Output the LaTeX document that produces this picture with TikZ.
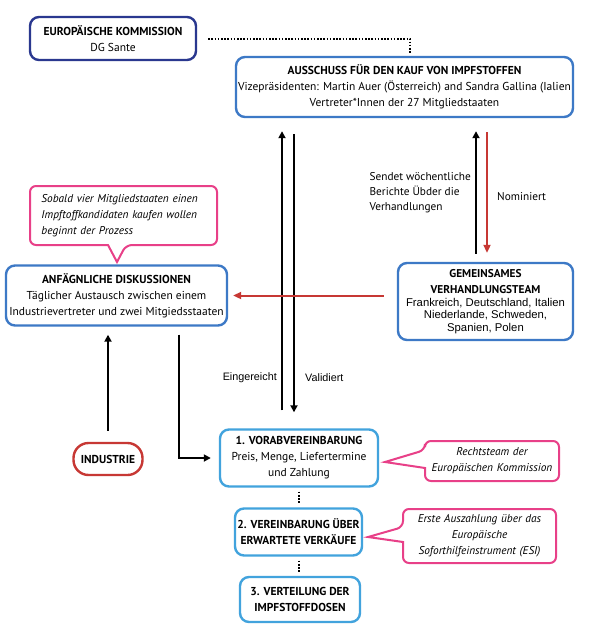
\documentclass[tikz,border=0pt]{standalone}
\usepackage{fontspec}
\setmainfont{PT Sans}
\newfontfamily\arialfont{Liberation Sans}
\usetikzlibrary{arrows.meta,calc}

\definecolor{navyblue}{RGB}{42,56,143}
\definecolor{midblue}{RGB}{61,121,198}
\definecolor{skyblue}{RGB}{66,163,221}
\definecolor{boxred}{RGB}{199,56,52}
\definecolor{notepink}{RGB}{232,64,136}

\tikzstyle{box}=[draw,rounded corners=9pt,line width=2.4pt,align=center,inner sep=1pt,fill=white,font=\fontsize{11.5}{16}\selectfont]
\tikzstyle{note}=[inner sep=4pt,font=\fontsize{11.3}{16}\selectfont\itshape]
\tikzstyle{note edge}=[draw=notepink,fill=white,line width=2pt]
\tikzstyle{flow}=[draw,line width=2.3pt,-{Triangle[width=7pt,length=7pt]}]
\tikzstyle{red flow}=[draw=boxred,line width=2pt,-{Triangle[width=7pt,length=8pt]}]
\tikzstyle{dots}=[draw,line width=2pt,dash pattern=on 1.6pt off 1.6pt]
\tikzstyle{lbl}=[inner sep=0pt,font=\fontsize{11.3}{15}\selectfont]

\begin{document}
\begin{tikzpicture}[x=1pt,y=-1pt]
	\fill[white] (0,0) rectangle (600,643);
	\useasboundingbox (0,0) rectangle (600,643);
	% boxes
	\node[box,draw=navyblue,minimum width=166pt,minimum height=43pt] (ek) at (113,38.5)
		{\textbf{EUROPÄISCHE KOMMISSION}\\DG Sante};
	\node[box,draw=midblue,minimum width=337pt,minimum height=60pt] (aus) at (404.5,87)
		{\textbf{AUSSCHUSS FÜR DEN KAUF VON IMPFSTOFFEN}\\Vizepräsidenten: Martin Auer (Österreich) and Sandra Gallina (Ialien\\Vertreter*Innen der 27 Mitgliedstaaten};
	\node[box,draw=midblue,minimum width=221pt,minimum height=60pt] (anf) at (116.5,295.5)
		{\textbf{ANFÄGNLICHE DISKUSSIONEN}\\Täglicher Austausch zwischen einem\\Industrievertreter und zwei Mitgiedsstaaten};
	\node[box,draw=midblue,minimum width=175pt,minimum height=77pt,font=\fontsize{11.3}{12.5}\selectfont] (gem) at (485.5,301.5)
		{\textbf{GEMEINSAMES}\\[3.5pt]\textbf{VERHANDLUNGSTEAM}\\[0.5pt]{\arialfont Frankreich, Deutschland, Italien}\\{\arialfont Niederlande, Schweden,}\\{\arialfont Spanien, Polen}};
	\node[box,draw=boxred,rounded corners=15pt,minimum width=69pt,minimum height=32pt] (ind) at (108,459)
		{\textbf{INDUSTRIE}};
	\node[box,draw=skyblue,minimum width=158pt,minimum height=57pt] (vor) at (299,458)
		{\textbf{1. VORABVEREINBARUNG}\\Preis, Menge, Liefertermine\\und Zahlung};
	\node[box,draw=skyblue,minimum width=127pt,minimum height=47pt] (ver2) at (298.5,532)
		{\textbf{2. VEREINBARUNG ÜBER}\\\textbf{ERWARTETE VERKÄUFE}};
	\node[box,draw=skyblue,minimum width=120pt,minimum height=45pt] (ver3) at (300,599.5)
		{\textbf{3. VERTEILUNG DER}\\\textbf{IMPFSTOFFDOSEN}};

	% callouts
	\coordinate (start tip) at (117,262);
	\coordinate (legal tip) at (385,462);
	\coordinate (esi tip) at (368,537);
	\path[note edge,rounded corners=6pt] (108,245) -- (30,245) -- (30,186) -- (217,186) -- (217,245) -- (126,245) [sharp corners] -- (start tip) -- cycle;
	\path[note edge,rounded corners=6pt] (425,468) -- (425,481) -- (559,481) -- (559,441) -- (425,441) -- (425,450) [sharp corners] -- (legal tip) -- cycle;
	\path[note edge,rounded corners=6pt] (403,542) -- (403,563) -- (556,563) -- (556,509) -- (403,509) -- (403,527) [sharp corners] -- (esi tip) -- cycle;
	\node[note,text width=171pt,align=left] (start) at (127,215.5)
		{Sobald vier Mitgliedstaaten einen\\Impftoffkandidaten kaufen wollen\\beginnt der Prozess};
	\node[note,text width=134pt,align=center] (legal) at (492,461)
		{Rechtsteam der\\Europäischen Kommission};
	\node[note,text width=150pt,align=center] (esi) at (479.5,536)
		{Erste Auszahlung über das\\Europäische\\Soforthilfeinstrument (ESI)};

	% connectors
	\draw[dots,shorten <=11pt,shorten >=2pt] (ek.east) -| ($(aus.north)+(5.5,0)$);
	\draw[dots,shorten <=4pt,shorten >=3pt] (vor.south) -- (vor.south |- ver2.north);
	\draw[dots,shorten <=4pt,shorten >=3pt] (ver2.south) -- (ver2.south |- ver3.north);

	\coordinate (ein) at ($(vor.north)+(-17,0)$);
	\coordinate (val) at ($(vor.north)+(-5,0)$);
	\coordinate (rep) at ($(gem.north)+(-9.5,0)$);
	\coordinate (nom) at ($(gem.north)+(1.5,0)$);
	\path[flow,shorten <=18pt,shorten >=13pt] (ein) -- (ein |- aus.south);
	\path[flow,shorten <=16pt,shorten >=16pt] (val |- aus.south) -- (val);
	\path[flow,shorten <=8pt,shorten >=13pt] (rep) -- (rep |- aus.south);
	\path[red flow,shorten <=14pt,shorten >=9pt] (nom |- aus.south) -- (nom);
	\path[red flow,shorten <=13pt,shorten >=5pt] (gem.west |- anf.east) -- (anf.east);
	\path[flow,shorten <=11pt,shorten >=8pt] (ind.north) -- (ind.north |- anf.south);
	\path[flow,shorten <=8pt,shorten >=8pt] ($(anf.south)+(62.5,0)$) |- (vor.west);

	% labels
	\node[lbl,anchor=east,align=left] (rep text) at (471,193) {Sendet wöchentliche\\Berichte Übder die\\Verhandlungen};
	\node[lbl,anchor=west] (nom text) at (497,197) {Nominiert};
	\node[lbl,anchor=east,font=\arialfont\fontsize{10.8}{12}\selectfont] (ein text) at (277,378) {Eingereicht};
	\node[lbl,anchor=west,font=\arialfont\fontsize{10.8}{12}\selectfont] (val text) at (305,378) {Validiert};
\end{tikzpicture}
\end{document}
